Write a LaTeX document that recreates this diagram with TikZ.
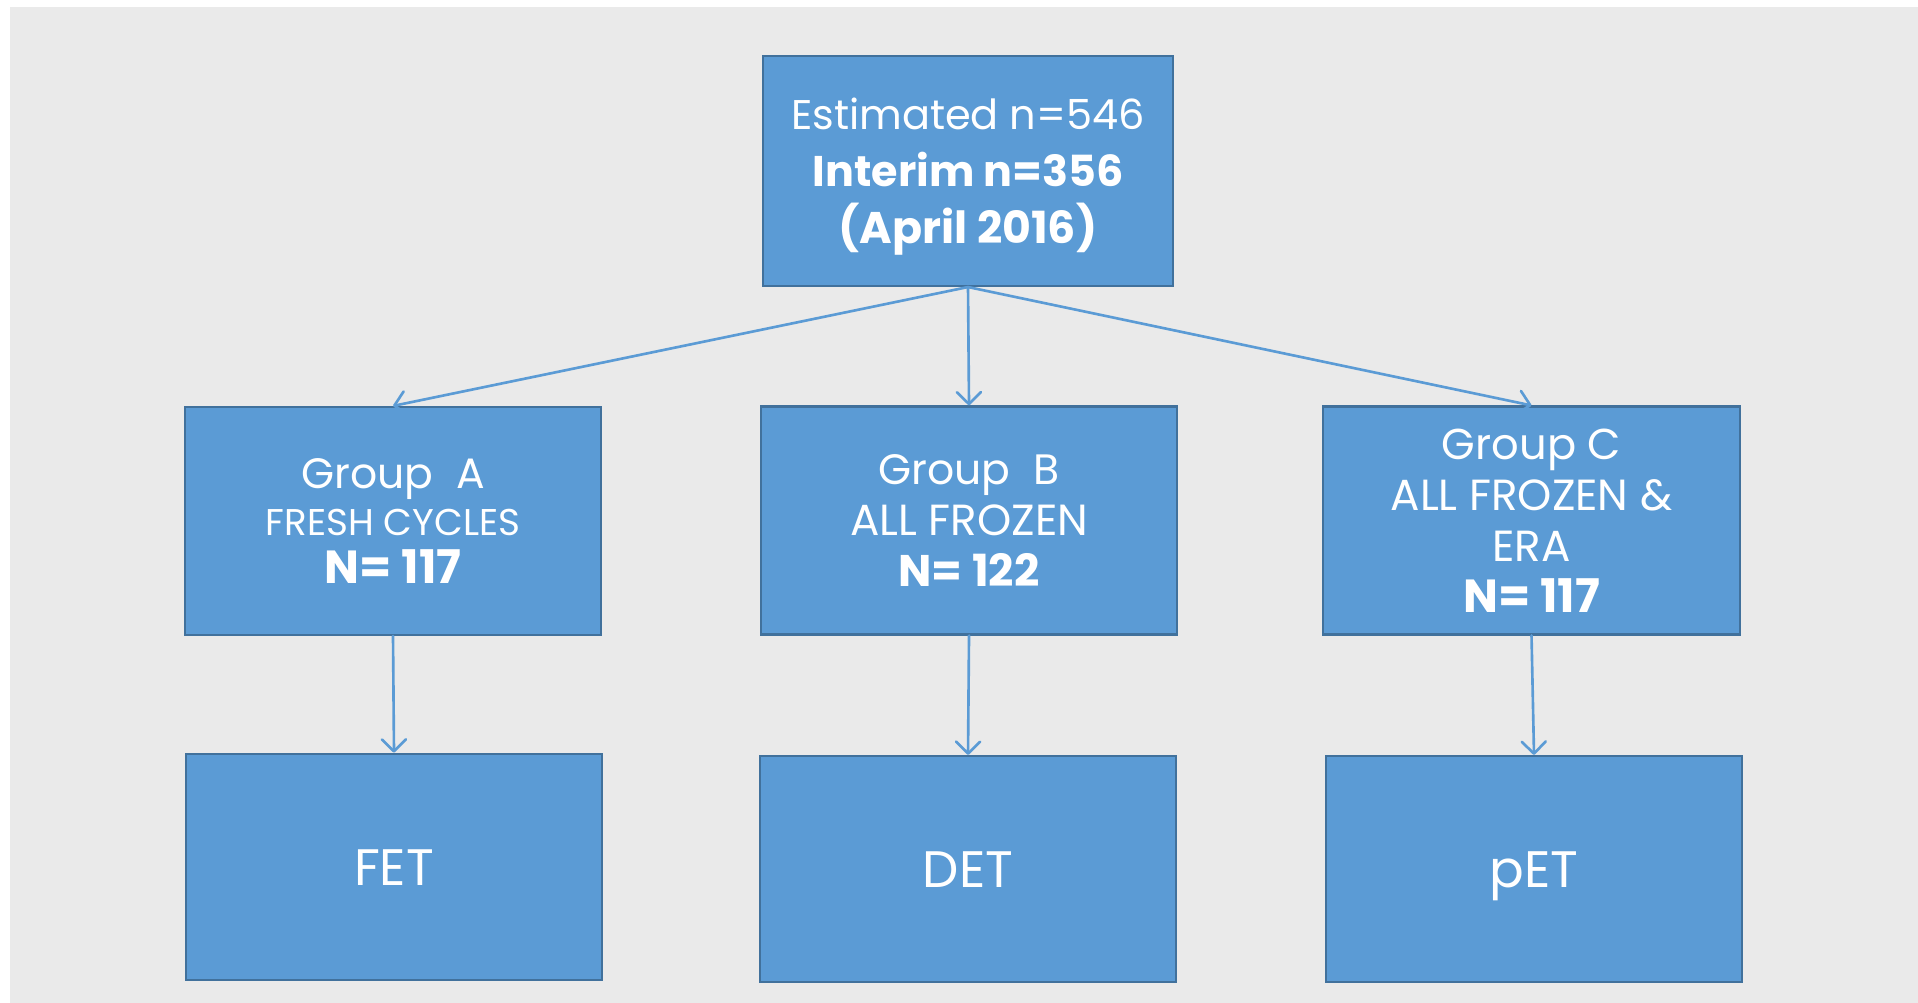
\documentclass[tikz,border=0pt]{standalone}
\usepackage{fontspec}
\setmainfont{Poppins}
\usepackage{xcolor}
\usetikzlibrary{arrows.meta}

\definecolor{boxfill}{HTML}{5B9BD5}
\definecolor{boxline}{HTML}{41719C}
\definecolor{slidebg}{HTML}{EAEAEA}
\newcommand{\fsz}[1]{\fontsize{#1}{#1}\selectfont}

\begin{document}
\begin{tikzpicture}

\tikzset{box/.style={draw=boxline, fill=boxfill, line width=0.6pt, minimum width=4.16cm,
  minimum height=2.28cm, inner sep=0pt, align=center, text=white},
endbox/.style={box, minimum height=2.26cm, text height=10.8pt, text depth=0pt, font=\fsz{14.6}},
link/.style={draw=boxfill, line width=0.75pt, line cap=round,
  -{Straight Barb[length=1.2mm,width=2.4mm,round]}}}

\useasboundingbox (0,0) rectangle (19.18,-10.03);
\fill[slidebg] (0.10,-0.07) rectangle (19.18,-10.03);

%the whole cohort
\node[box, minimum width=4.10cm, minimum height=2.30cm, text depth=0pt, font=\fontsize{12}{16.2}\selectfont] (total) at (9.68,-1.71)
  {\fsz{11.8}Estimated n=546\\ \fsz{12.2}\bfseries Interim n=356\\ \fsz{12.6}\bfseries (April 2016)};

%the three arms
\node[box, font=\fontsize{11}{13.6}\selectfont] (groupA) at (3.93,-5.21)
  {\fsz{12.1}Group~~A\\ \fsz{10.6}FRESH CYCLES\\ \fsz{13.2}\bfseries N= 117};
\node[box, font=\fontsize{11}{14.5}\selectfont] (groupB) at (9.69,-5.205)
  {\fsz{12.1}Group~~B\\ \fsz{12.4}ALL FROZEN\\ \fsz{12.6}\bfseries N= 122};
\node[box, minimum width=4.17cm, font=\fontsize{11}{14.5}\selectfont] (groupC) at (15.315,-5.205)
  {\fsz{12.3}Group C\\ \fsz{12.4}ALL FROZEN \&\\ \fsz{12.4}ERA\\ \fsz{13.2}\bfseries N= 117};

%transfer type
\node[endbox, minimum height=2.265cm] (fet) at (3.94,-8.67) {FET};
\node[endbox, minimum width=4.155cm] (det) at (9.68,-8.69) {DET};
\node[endbox] (pet) at (15.34,-8.69) {pET};

\draw[link] (total.south) -- (groupA.north);
\draw[link] (total.south) -- (groupB.north);
\draw[link] (total.south) -- (groupC.north);

\draw[link] (groupA.south) -- (fet.north);
\draw[link] (groupB.south) -- (det.north);
\draw[link] (groupC.south) -- (pet.north);

\end{tikzpicture}
\end{document}
